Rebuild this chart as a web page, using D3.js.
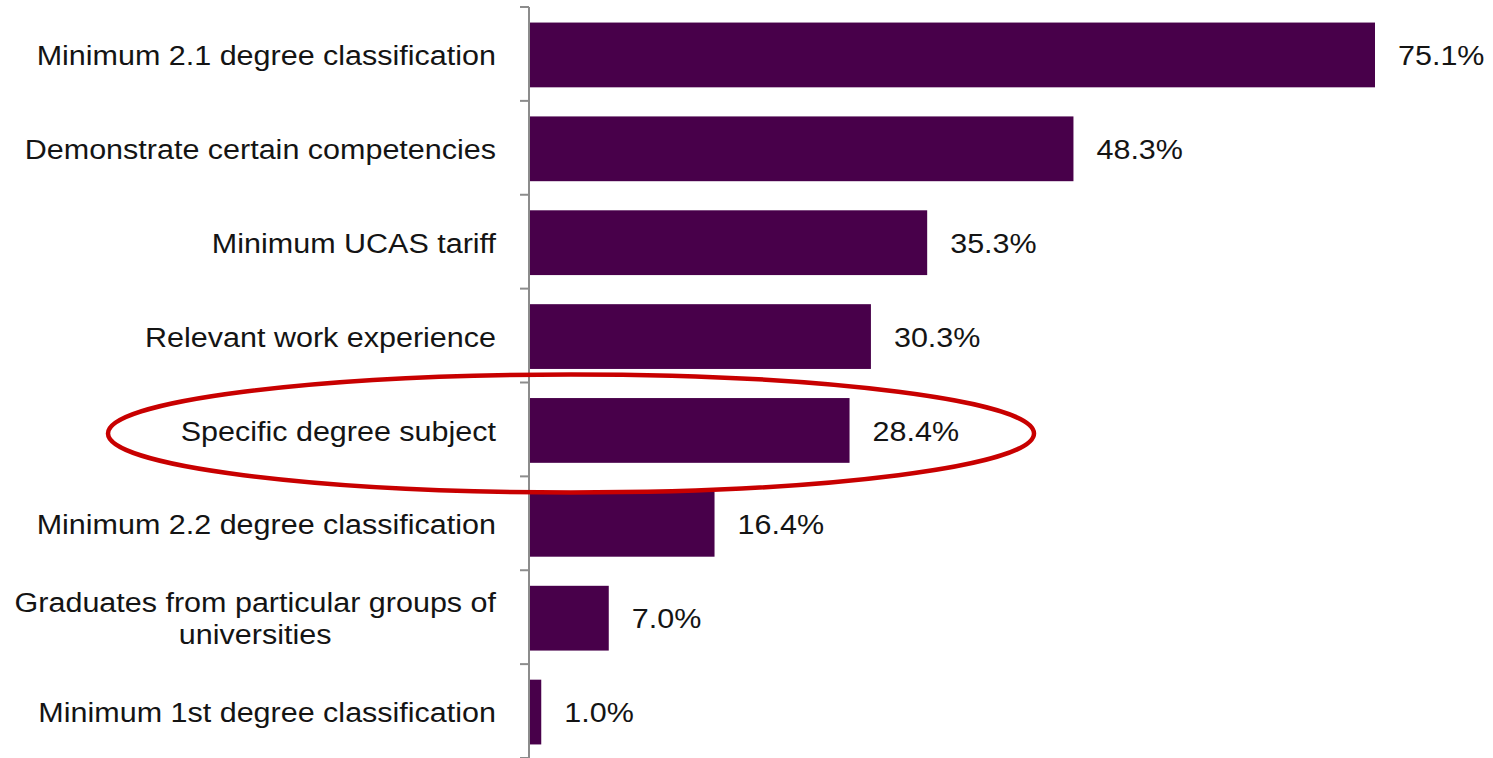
<!DOCTYPE html>
<html>
<head>
  <meta charset="utf-8">
  <style>
    body { margin: 0; padding: 0; background: white; font-family: "Liberation Sans", Arial, sans-serif; }
    .bar { fill: #48004a; }
    .label { fill: #141414; font-size: 28px; text-anchor: end; }
    .value { fill: #141414; font-size: 28px; }
    .axis line { stroke: #8c8c8c; stroke-width: 2; }
    .highlight { fill: none; stroke: #c80000; stroke-width: 4.5; }
  </style>
</head>
<body>
  <div id="chart"></div>
  <script src="https://d3js.org/d3.v7.min.js"></script>
  <script>
    // categories, top to bottom
    var categories = [
      "Minimum 2.1 degree classification",
      "Demonstrate certain competencies",
      "Minimum UCAS tariff",
      "Relevant work experience",
      "Specific degree subject",
      "Minimum 2.2 degree classification",
      "Graduates from particular groups of universities",
      "Minimum 1st degree classification"
    ]
    var values = [75.1, 48.3, 35.3, 30.3, 28.4, 16.4, 7.0, 1.0]
    var highlighted = "Specific degree subject"

    var width = 1493,
      height = 758,
      stretch = 1.09 // the source text is slightly wider than it is tall

    var svg = d3.select("#chart").append("svg")
      .attr("width", width)
      .attr("height", height)

    var x = d3.scaleLinear().domain([0, 75.1]).range([530, 1375])
    var y = d3.scaleBand().domain(categories).range([7, 758]).paddingInner(0.31).paddingOuter(0.155)

    // bars
    svg.append("g").selectAll("rect")
      .data(values)
      .enter().append("rect")
      .attr("class", "bar")
      .attr("x", x(0))
      .attr("y", function(d, i) { return y(categories[i]) + 1 })
      .attr("width", function(d) { return x(d) - x(0) })
      .attr("height", y.bandwidth())

    // value labels
    svg.append("g").selectAll("text")
      .data(values)
      .enter().append("text")
      .attr("class", "value")
      .attr("transform", function(d, i) {
        return "translate(" + (x(d) + 23) + "," + (y(categories[i]) + y.bandwidth() / 2 + 1) + ") scale(" + stretch + ",1)"
      })
      .attr("dy", "0.36em")
      .text(function(d) { return d.toFixed(1) + "%" })

    // axis with ticks at category boundaries
    var boundaries = d3.range(categories.length + 1).map(function(i) { return 7 + i * y.step() })
    var axis = svg.append("g").attr("class", "axis")
    axis.append("line")
      .attr("x1", 529).attr("x2", 529)
      .attr("y1", boundaries[0]).attr("y2", boundaries[boundaries.length - 1])
    axis.selectAll(".tick")
      .data(boundaries)
      .enter().append("line")
      .attr("x1", 520).attr("x2", 529)
      .attr("y1", function(d) { return d }).attr("y2", function(d) { return d })

    // category labels, the long one wrapped on two lines
    var labels = svg.append("g").selectAll("text")
      .data(categories)
      .enter().append("text")
      .attr("class", "label")
      .attr("transform", function(d) {
        return "translate(496," + (y(d) + y.bandwidth() / 2 + 1) + ") scale(" + stretch + ",1)"
      })

    labels.each(function(d) {
      var t = d3.select(this)
      var lines = d.length > 40 ? ["Graduates from particular groups of", "universities"] : [d]
      lines.forEach(function(line, i) {
        var last = i > 0
        t.append("tspan")
          .attr("x", last ? -221 : 0)
          .attr("text-anchor", last ? "middle" : "end")
          .attr("dy", i === 0 ? (0.36 - (lines.length - 1) * 0.57) + "em" : "1.14em")
          .text(line)
      })
    })

    // red ellipse around the highlighted category
    svg.append("ellipse")
      .attr("class", "highlight")
      .attr("cx", 571)
      .attr("cy", y(highlighted) + y.bandwidth() / 2 + 4)
      .attr("rx", 463)
      .attr("ry", 59)
  </script>
</body>
</html>
